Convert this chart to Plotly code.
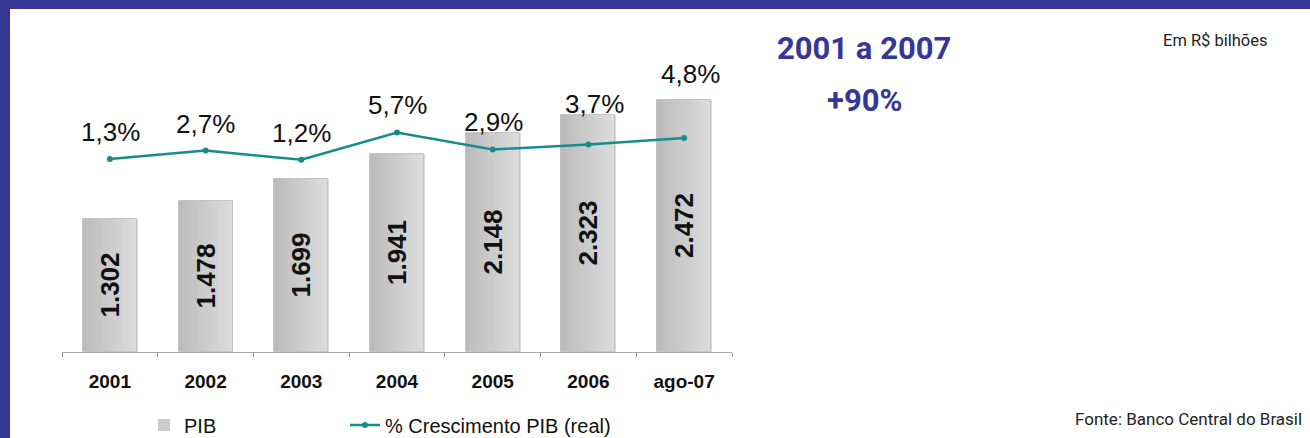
import plotly.graph_objects as go

# dados (R$ bilhões / % real)
anos = ['2001', '2002', '2003', '2004', '2005', '2006', 'ago-07']
pib = [1302, 1478, 1699, 1941, 2148, 2323, 2472]
crescimento = [1.3, 2.7, 1.2, 5.7, 2.9, 3.7, 4.8]

pib_txt = [f"{v:,}".replace(',', '.') for v in pib]
cresc_txt = [f"{v:.1f}%".replace('.', ',') for v in crescimento]

W, H = 1310, 438
ROXO = '#363699'
TEAL = '#168c8c'
NARROW = 'Roboto, Liberation Sans, sans-serif'
ARIAL = 'Liberation Sans, Arial, sans-serif'

BAR_W = 0.564
N_STRIPS = 12


def px_x(x):
    return x / W


def px_y(y):
    return (H - y) / H


def mix(c1, c2, t):
    a = [int(c1[i:i + 2], 16) for i in (1, 3, 5)]
    b = [int(c2[i:i + 2], 16) for i in (1, 3, 5)]
    return '#' + ''.join(f"{round(p + (q - p) * t):02x}" for p, q in zip(a, b))


fig = go.Figure()

# barra base (legenda)
fig.add_trace(go.Bar(
    x=anos, y=pib, name='PIB', width=BAR_W,
    marker=dict(color='#cbcbcb', line=dict(width=0)),
    legend='legend', hoverinfo='skip'
))

# faixas para simular o degradê
sw = BAR_W / N_STRIPS
for i in range(N_STRIPS):
    fig.add_trace(go.Bar(
        x=anos, y=pib, width=sw * 1.2, offset=-BAR_W / 2 + i * sw,
        marker=dict(color=mix('#bcbcbc', '#dcdcdc', i / (N_STRIPS - 1)), line=dict(width=0)),
        showlegend=False, hoverinfo='skip'
    ))

# rótulos das barras + contorno
fig.add_trace(go.Bar(
    x=anos, y=pib, width=BAR_W, text=pib_txt,
    textposition='inside', insidetextanchor='middle', textangle=-90,
    constraintext='none',
    textfont=dict(family=ARIAL, size=26, color='#111111', weight='bold'),
    marker=dict(color='rgba(0,0,0,0)', line=dict(color='#c4c4c4', width=1)),
    showlegend=False, hoverinfo='skip'
))

fig.add_trace(go.Scatter(
    x=anos, y=crescimento, yaxis='y2', name='% Crescimento PIB (real)',
    mode='lines+markers',
    line=dict(color=TEAL, width=2.5),
    marker=dict(color=TEAL, size=6),
    legend='legend2'
))

# rótulos percentuais
label_dy = [27, 27, 27, 27, 27, 41, 64]
label_dx = [1, 0, 0, 0, 1, 6, 6]
for i, (v, t) in enumerate(zip(crescimento, cresc_txt)):
    fig.add_annotation(
        x=i, y=v, xref='x', yref='y2', text=t, showarrow=False,
        xanchor='center', yanchor='middle', yshift=label_dy[i], xshift=label_dx[i],
        font=dict(family=ARIAL, size=26, color='#111111')
    )


def texto(x, y, t, size, color, weight='normal'):
    fig.add_annotation(x=px_x(x), y=px_y(y), xref='paper', yref='paper',
                       xanchor='center', yanchor='middle', text=t, showarrow=False,
                       font=dict(family=NARROW, size=size, color=color, weight=weight))


texto(863.5, 48.7, '2001 a 2007', 31, ROXO, 'bold')
texto(864.6, 100, '+90%', 31, ROXO, 'bold')
texto(1215.5, 41, 'Em R$ bilhões', 16.5, '#222222')
texto(1188.5, 419, 'Fonte: Banco Central do Brasil', 17, '#222222')

# moldura roxa (topo e esquerda)
fig.add_shape(type='rect', xref='paper', yref='paper', x0=0, x1=1,
              y0=px_y(9), y1=1, fillcolor=ROXO, line_width=0, layer='above')
fig.add_shape(type='rect', xref='paper', yref='paper', x0=0, x1=px_x(10),
              y0=0, y1=1, fillcolor=ROXO, line_width=0, layer='above')

legend_font = dict(family=ARIAL, size=20, color='#111111')
fig.update_layout(
    width=W, height=H, autosize=False,
    margin=dict(l=0, r=0, t=0, b=0, autoexpand=False),
    paper_bgcolor='white', plot_bgcolor='white',
    barmode='overlay', bargap=0,
    font=dict(family=ARIAL, color='#111111'),
    showlegend=True,
    legend=dict(orientation='h', x=px_x(144), y=px_y(425), xanchor='left', yanchor='middle',
                font=legend_font, bgcolor='rgba(0,0,0,0)'),
    legend2=dict(orientation='h', x=px_x(345), y=px_y(425), xanchor='left', yanchor='middle',
                 font=legend_font, bgcolor='rgba(0,0,0,0)'),
    xaxis=dict(domain=[px_x(62), px_x(732)], type='category', range=[-0.5, 6.5],
               showline=True, linecolor='#a6a6a6', linewidth=1,
               ticks='outside', tickson='boundaries', ticklen=4, tickcolor='#8c8c8c',
               ticklabelstandoff=12, automargin=False,
               tickfont=dict(family=ARIAL, size=19, color='#111111', weight='bold'),
               showgrid=False, zeroline=False),
    yaxis=dict(domain=[px_y(352), px_y(46)], range=[0, 3000], visible=False,
               automargin=False, showgrid=False, zeroline=False),
    yaxis2=dict(overlaying='y', range=[-30.6, 20], visible=False,
                automargin=False, showgrid=False, zeroline=False),
    hovermode=False
)

fig.write_html("out.html", config={'displayModeBar': False},
               post_script="document.body.style.margin='0';")
